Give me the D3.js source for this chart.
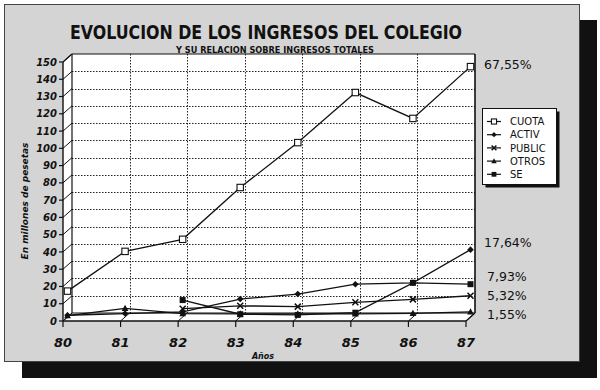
<!DOCTYPE html>
<html><head><meta charset="utf-8">
<script src="https://cdn.jsdelivr.net/npm/d3@7"></script>
<style>body{margin:0;background:#fff}svg{display:block}</style>
</head><body>
<svg id="c" width="600" height="390"></svg>
<script>
// ---- data ----
const years = [80, 81, 82, 83, 84, 85, 86, 87];
const cuota  = [15, 38, 45, 75, 101, 130, 115, 145];
const activ  = [1, 2, 3, 10.4, 13.3, 19, 19.8, 39];
const publicS = [null, null, 4.8, 6.5, 6, 8.5, 10.2, 12.3];
const otros  = [0.8, 5, 2, 1.8, 1.8, 1.8, 2.1, 3];
const se     = [null, null, 9.8, 1.6, 1.2, 2.5, 19.8, 19];
const seriesNames = ["CUOTA", "ACTIV", "PUBLIC", "OTROS", "SE"];
const markerTypes = ["hsquare", "diamond", "cross", "triangle", "square"];
const yTicks = [0,10,20,30,40,50,60,70,80,90,100,110,120,130,140,150];
const pctLabels = ["67,55%", "17,64%", "7,93%", "5,32%", "1,55%"];
const pctLevels = [148.8, 45.2, 25.5, 14.5, 3.5];
const title = "EVOLUCION DE LOS INGRESOS DEL COLEGIO";
const subtitle = "Y SU RELACION SOBRE INGRESOS TOTALES";
const yLabel = "En millones de pesetas";
const xLabel = "Años";

const svg = d3.select("#c");
const x = d3.scaleLinear().domain([80, 87]).range([63, 466]);
const y = d3.scaleLinear().domain([0, 150]).range([321, 62]);
const DX = 9, DY = -8;      // back wall offset
const MX = 4.5, MY = -4;    // data plane offset

// shadow + panel
svg.append("rect").attr("x", 22).attr("y", 20).attr("width", 575).attr("height", 358).attr("fill", "#111");
svg.append("rect").attr("x", 4.5).attr("y", 4.5).attr("width", 575).attr("height", 357)
  .attr("fill", "#d4d4d4").attr("stroke", "#444").attr("stroke-width", 1);

const xL = x(80), xR = x(87), yB = y(0), yT = y(150);
// white walls
svg.append("rect").attr("x", xL + DX).attr("y", yT + DY).attr("width", xR - xL).attr("height", yB - yT).attr("fill", "#fff");
svg.append("polygon").attr("points", [[xL, yB], [xL + DX, yB + DY], [xR + DX, yB + DY], [xR, yB]].join(" ")).attr("fill", "#fff");
svg.append("polygon").attr("points", [[xL, yB], [xL, yT], [xL + DX, yT + DY], [xL + DX, yB + DY]].join(" ")).attr("fill", "#fff");

// grid
const g = svg.append("g");
g.selectAll(".hg").data(yTicks.filter(v => v > 0 && v < 150)).join("line")
  .attr("x1", xL + DX).attr("x2", xR + DX).attr("y1", d => Math.round(y(d) + DY) + 0.5).attr("y2", d => Math.round(y(d) + DY) + 0.5)
  .attr("stroke", "#222").attr("stroke-width", 1).attr("stroke-dasharray", "1.5,1.5");
g.selectAll(".vg").data(years.slice(1, -1)).join("line")
  .attr("x1", d => Math.round(x(d) + DX) + 0.5).attr("x2", d => Math.round(x(d) + DX) + 0.5).attr("y1", yT + DY).attr("y2", yB + DY)
  .attr("stroke", "#222").attr("stroke-width", 1).attr("stroke-dasharray", "1.5,1.5");

// frame
const line = (x1, y1, x2, y2, w) => svg.append("line").attr("x1", x1).attr("y1", y1).attr("x2", x2).attr("y2", y2)
  .attr("stroke", "#111").attr("stroke-width", w || 1.2);
line(xL + DX, yT + DY, xR + DX, yT + DY);
line(xR + DX, yT + DY, xR + DX, yB + DY, 1.6);
line(xL + DX, yT + DY, xL + DX, yB + DY);
line(xL + DX, yB + DY, xR + DX, yB + DY);
line(xR + DX, yB + DY, xR, yB);
line(xL, yB, xR, yB, 1.4);
line(xL, yB, xL, yT, 1.4);
line(xL, yT, xL + DX, yT + DY);

// y ticks with depth diagonals
yTicks.forEach(v => {
  line(xL - 4, y(v), xL, y(v));
  line(xL, y(v), xL + DX, y(v) + DY, 1);
});
years.forEach(v => {
  line(x(v), yB, x(v), yB + 6);
  line(x(v), yB, x(v) + DX, yB + DY, 1);
});

// tick labels
svg.append("g").selectAll("text").data(yTicks).join("text")
  .attr("x", 57).attr("y", d => y(d)).attr("dy", "0.36em").attr("text-anchor", "end")
  .attr("font-family", "DejaVu Sans").attr("font-weight", "bold").attr("font-style", "italic")
  .attr("font-size", 10).attr("fill", "#111").text(d => d);
svg.append("g").selectAll("text").data(years).join("text")
  .attr("x", d => x(d)).attr("y", 347).attr("text-anchor", "middle")
  .attr("font-family", "DejaVu Sans").attr("font-weight", "bold").attr("font-style", "italic")
  .attr("font-size", 13).attr("fill", "#111").text(d => d);
svg.append("text").attr("x", 263).attr("y", 358.5).attr("text-anchor", "middle")
  .attr("font-family", "DejaVu Sans").attr("font-weight", "bold").attr("font-style", "italic")
  .attr("font-size", 8).attr("fill", "#111").text(xLabel);
svg.append("text").attr("transform", "translate(28,201) rotate(-90)").attr("text-anchor", "middle")
  .attr("font-family", "DejaVu Sans").attr("font-weight", "bold").attr("font-style", "italic")
  .attr("font-size", 9).attr("fill", "#111").text(yLabel);

// titles
svg.append("text").attr("x", 70).attr("y", 39).attr("textLength", 392).attr("lengthAdjust", "spacingAndGlyphs")
  .attr("font-family", "DejaVu Sans").attr("font-weight", "bold").attr("font-size", 20).attr("fill", "#111").text(title);
svg.append("text").attr("x", 176).attr("y", 52.5).attr("textLength", 198).attr("lengthAdjust", "spacingAndGlyphs")
  .attr("font-family", "DejaVu Sans").attr("font-weight", "bold").attr("font-size", 8.5).attr("fill", "#111").text(subtitle);

// markers
function marker(sel, type, cx, cy, s) {
  s = s || 1;
  if (type === "hsquare") sel.append("rect").attr("x", cx - 3.2 * s).attr("y", cy - 3.2 * s).attr("width", 6.4 * s).attr("height", 6.4 * s).attr("fill", "#fff").attr("stroke", "#111").attr("stroke-width", 1.1);
  else if (type === "square") sel.append("rect").attr("x", cx - 3 * s).attr("y", cy - 3 * s).attr("width", 6 * s).attr("height", 6 * s).attr("fill", "#111");
  else if (type === "diamond") sel.append("path").attr("d", `M${cx},${cy - 3.3 * s}L${cx + 3.3 * s},${cy}L${cx},${cy + 3.3 * s}L${cx - 3.3 * s},${cy}Z`).attr("fill", "#111");
  else if (type === "triangle") sel.append("path").attr("d", `M${cx},${cy - 3.6 * s}L${cx + 3.4 * s},${cy + 2.6 * s}L${cx - 3.4 * s},${cy + 2.6 * s}Z`).attr("fill", "#111");
  else if (type === "cross") sel.append("path").attr("d", `M${cx - 3 * s},${cy - 3 * s}L${cx + 3 * s},${cy + 3 * s}M${cx + 3 * s},${cy - 3 * s}L${cx - 3 * s},${cy + 3 * s}`).attr("stroke", "#111").attr("stroke-width", 1.5).attr("fill", "none");
}

const allSeries = [cuota, activ, publicS, otros, se];
const lineGen = d3.line().defined(d => d[1] != null).x(d => x(d[0]) + MX).y(d => y(d[1]) + MY);
const plot = svg.append("g");
[4, 3, 2, 1, 0].forEach(i => {
  const pts = years.map((yr, j) => [yr, allSeries[i][j]]);
  plot.append("path").attr("d", lineGen(pts)).attr("fill", "none").attr("stroke", "#111").attr("stroke-width", 1.3);
});
[4, 3, 2, 1, 0].forEach(i => {
  years.forEach((yr, j) => {
    const v = allSeries[i][j];
    if (v != null) marker(plot, markerTypes[i], x(yr) + MX, y(v) + MY);
  });
});

// percentage labels
svg.append("g").selectAll("text").data(pctLabels).join("text")
  .attr("x", (d, i) => i < 2 ? 484 : 487).attr("y", (d, i) => y(pctLevels[i])).attr("dy", "0.36em")
  .attr("font-family", "DejaVu Sans").attr("font-size", 12.5).attr("fill", "#111").text(d => d);

// legend
const lg = svg.append("g");
lg.append("rect").attr("x", 485.5).attr("y", 111.5).attr("width", 74).attr("height", 76).attr("fill", "#111");
lg.append("rect").attr("x", 482.5).attr("y", 108.5).attr("width", 74).attr("height", 76).attr("fill", "#fff").attr("stroke", "#111").attr("stroke-width", 1);
seriesNames.forEach((n, i) => {
  const ly = 121.5 + i * 13.2;
  lg.append("line").attr("x1", 487).attr("x2", 501).attr("y1", ly).attr("y2", ly).attr("stroke", "#111").attr("stroke-width", 1.2);
  marker(lg, markerTypes[i], 494, ly, 0.8);
  lg.append("text").attr("x", 510).attr("y", ly).attr("dy", "0.36em").attr("font-family", "DejaVu Sans")
    .attr("font-size", 10).attr("fill", "#111").text(n);
});
</script>
</body></html>
